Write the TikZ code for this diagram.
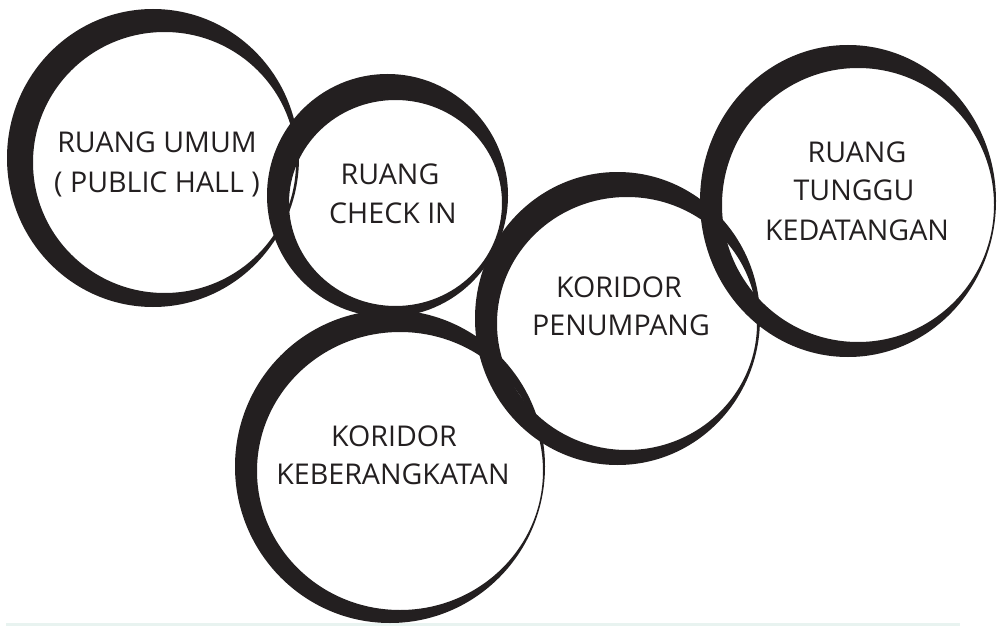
\documentclass[tikz,border=0pt]{standalone}
\usepackage{fontspec}
\setmainfont{Open Sans}
\definecolor{ink}{HTML}{231F20}
\definecolor{strip}{HTML}{E8F3F0}
\tikzset{
  ring/.style={fill=ink, even odd rule},
  lbl/.style={text=ink, font=\fontsize{28.6}{34}\selectfont, inner sep=0pt, anchor=base},
}
\begin{document}
\begin{tikzpicture}[x=1pt,y=-1pt]
\useasboundingbox (0,0) rectangle (997,626);
\fill[white] (0,0) rectangle (997,626);
\fill[strip] (6,623) rectangle (960,626);

% crescent rings: outer ellipse minus an offset inner ellipse
\fill[ring] (153,158) ellipse [x radius=146, y radius=149]
            (164.5,162.5) ellipse [x radius=131.5, y radius=130.5];
\fill[ring] (387.5,195.5) ellipse [x radius=120.5, y radius=121.5]
            (395.5,203) ellipse [x radius=106.5, y radius=103];
\fill[ring] (617.5,318.5) ellipse [x radius=142.5, y radius=146.5]
            (627,323.5) ellipse [x radius=130, y radius=126.5];
\fill[ring] (848,201) ellipse [x radius=148, y radius=156]
            (858,205) ellipse [x radius=136, y radius=137];
\fill[ring] (390,466.5) ellipse [x radius=155, y radius=156.5]
            (400,471) ellipse [x radius=143, y radius=139];

% labels
\node[lbl] (ph1) at (157,153) {RUANG UMUM};
\node[lbl] (ph2) at (157,192) {( PUBLIC HALL )};
\node[lbl] (ci1) at (390,184) {RUANG};
\node[lbl] (ci2) at (393,223) {CHECK IN};
\node[lbl] (kp1) at (619,297) {KORIDOR};
\node[lbl] (kp2) at (621,335) {PENUMPANG};
\node[lbl] (rt1) at (857,162) {RUANG};
\node[lbl] (rt2) at (854,200) {TUNGGU};
\node[lbl] (rt3) at (857,240) {KEDATANGAN};
\node[lbl] (kk1) at (394,446) {KORIDOR};
\node[lbl] (kk2) at (393,484) {KEBERANGKATAN};
\end{tikzpicture}
\end{document}
